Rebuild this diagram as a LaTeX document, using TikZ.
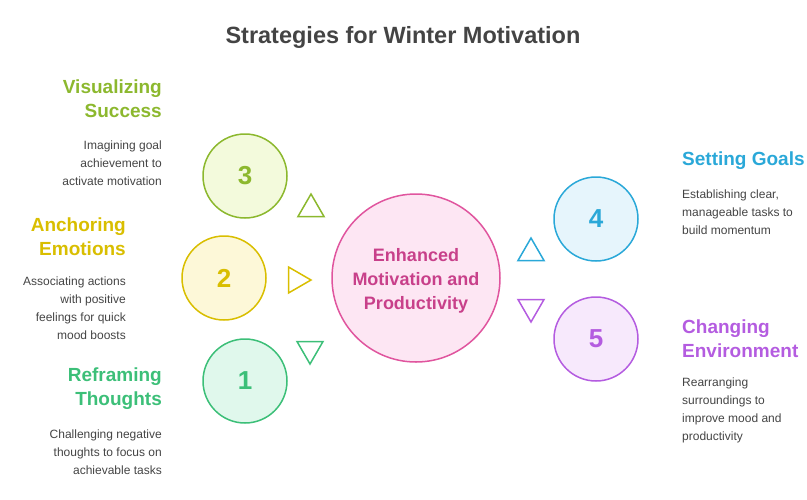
\documentclass[tikz,border=0pt]{standalone}
\usepackage{fontspec}
\setmainfont{Liberation Sans}
\usetikzlibrary{shapes.geometric}
\definecolor{cA}{HTML}{8CB82E}\definecolor{fA}{HTML}{F3FADC}
\definecolor{cB}{HTML}{D9BE00}\definecolor{fB}{HTML}{FDF8D8}
\definecolor{cC}{HTML}{3CBF78}\definecolor{fC}{HTML}{E0F8EC}
\definecolor{cD}{HTML}{2AA8D8}\definecolor{fD}{HTML}{E6F5FC}
\definecolor{cE}{HTML}{B45CE0}\definecolor{fE}{HTML}{F7E9FC}
\definecolor{cM}{HTML}{E0559E}\definecolor{fM}{HTML}{FDE6F3}
\definecolor{tM}{HTML}{C8408A}\definecolor{gr}{HTML}{444444}
\tikzset{
 num/.style={circle,draw=#1,line width=1.5pt,minimum size=84pt,inner sep=0pt,font=\fontsize{26}{30}\selectfont\bfseries,text=#1},
 head/.style={font=\fontsize{19}{24}\selectfont\bfseries,text=#1},
 desc/.style={font=\fontsize{12}{18}\selectfont,text=gr},
 tri/.style={regular polygon,regular polygon sides=3,draw=#1,line width=1.5pt,minimum size=30pt,inner sep=0pt},
}
\begin{document}
\begin{tikzpicture}[x=1pt,y=-1pt]
\useasboundingbox (0,0) rectangle (807,499);
\node[font=\fontsize{23.5}{28}\selectfont\bfseries,text=gr] (title) at (403,37) {Strategies for Winter Motivation};
\node[num=cM,fill=fM,minimum size=168pt] (m) at (416,278) {};
\node[font=\fontsize{18}{24}\selectfont\bfseries,text=tM,align=center] (mt) at (416,281) {Enhanced\\Motivation and\\Productivity};
\node[num=cA,fill=fA] (n3) at (245,176) {3};
\node[num=cB,fill=fB] (n2) at (224,278) {2};
\node[num=cC,fill=fC] (n1) at (245,381) {1};
\node[num=cD,fill=fD] (n4) at (596,219) {4};
\node[num=cE,fill=fE] (n5) at (596,339) {5};
\node[tri=cA] (t3) at (311,209) {};
\node[tri=cB,shape border rotate=-90] (t2) at (296,280) {};
\node[tri=cC,shape border rotate=180] (t1) at (310,349) {};
\node[tri=cD] (t4) at (531,253) {};
\node[tri=cE,shape border rotate=180] (t5) at (531,307) {};
\node[head=cA,anchor=north east,align=right,inner sep=0pt] (h3) at (162,80) {Visualizing\\Success};
\node[desc,anchor=north east,align=right,inner sep=0pt] (d3) at (162,141) {Imagining goal\\achievement to\\activate motivation};
\node[head=cB,anchor=north east,align=right,inner sep=0pt] (h2) at (126,218) {Anchoring\\Emotions};
\node[desc,anchor=north east,align=right,inner sep=0pt] (d2) at (126,277) {Associating actions\\with positive\\feelings for quick\\mood boosts};
\node[head=cC,anchor=north east,align=right,inner sep=0pt] (h1) at (162,368) {Reframing\\Thoughts};
\node[desc,anchor=north east,align=right,inner sep=0pt] (d1) at (162,430) {Challenging negative\\thoughts to focus on\\achievable tasks};
\node[head=cD,anchor=north west,align=left,inner sep=0pt] (h4) at (682,152) {Setting Goals};
\node[desc,anchor=north west,align=left,inner sep=0pt] (d4) at (682,190) {Establishing clear,\\manageable tasks to\\build momentum};
\node[head=cE,anchor=north west,align=left,inner sep=0pt] (h5) at (682,320) {Changing\\Environment};
\node[desc,anchor=north west,align=left,inner sep=0pt] (d5) at (682,378) {Rearranging\\surroundings to\\improve mood and\\productivity};
\end{tikzpicture}
\end{document}
